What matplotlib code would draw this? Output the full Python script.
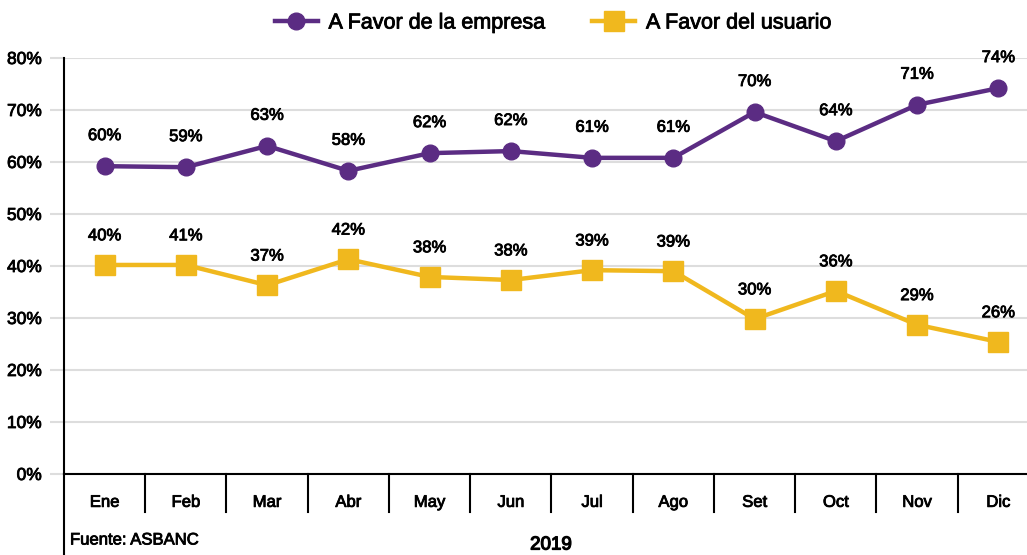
import matplotlib.pyplot as plt
import matplotlib.transforms as mtransforms
import matplotlib.patheffects as pe

plt.rcParams['font.family'] = ['Liberation Sans', 'DejaVu Sans']

months = ["Ene", "Feb", "Mar", "Abr", "May", "Jun", "Jul", "Ago", "Set", "Oct", "Nov", "Dic"]
empresa = [59.2, 59.0, 63.1, 58.3, 61.7, 62.1, 60.8, 60.8, 69.6, 64.0, 71.0, 74.2]
usuario = [40.2, 40.2, 36.3, 41.3, 37.9, 37.3, 39.2, 39.0, 29.8, 35.2, 28.7, 25.4]
empresa_lbl = ["60%", "59%", "63%", "58%", "62%", "62%", "61%", "61%", "70%", "64%", "71%", "74%"]
usuario_lbl = ["40%", "41%", "37%", "42%", "38%", "38%", "39%", "39%", "30%", "36%", "29%", "26%"]

purple = "#5B2C83"
yellow = "#F0B81E"
# thin outline so Liberation looks closer to the medium weight of the original
thick = [pe.withStroke(linewidth=0.6, foreground="black")]

W, H = 1027, 555
fig = plt.figure(figsize=(W / 100, H / 100), dpi=100)
# axes runs past the right edge, like the original (Dic column is cut)
ax = fig.add_axes([64 / W, (H - 474) / H, (1039 - 64) / W, 416 / H])

x = list(range(len(months)))
ax.plot(x, empresa, color=purple, lw=3.2, marker="o", ms=12, label="A Favor de la empresa", zorder=3)
ax.plot(x, usuario, color=yellow, lw=3.2, marker="s", ms=14, label="A Favor del usuario", zorder=3)

for i in x:
    ax.annotate(empresa_lbl[i], (i, empresa[i]), xytext=(0, 22), textcoords="offset points",
                ha="center", va="center", fontsize=12, path_effects=thick)
    ax.annotate(usuario_lbl[i], (i, usuario[i]), xytext=(0, 21), textcoords="offset points",
                ha="center", va="center", fontsize=12, path_effects=thick)

ax.set_xlim(-0.5, 11.5)
ax.set_ylim(0, 80)
ax.set_yticks(range(0, 81, 10))
ax.set_yticklabels([f"{v}%" for v in range(0, 81, 10)], fontsize=12.5, path_effects=thick)
ax.set_xticks(x)
ax.set_xticklabels(months, fontsize=12, path_effects=thick)
ax.tick_params(axis="x", length=0, pad=15)
ax.tick_params(axis="y", length=10, color="#DDDDDD", width=1.5, pad=6)
ax.grid(axis="y", color="#DDDDDD", lw=1.5)
ax.set_axisbelow(True)

for s in ["top", "right"]:
    ax.spines[s].set_visible(False)
ax.spines["left"].set_color("black")
ax.spines["left"].set_linewidth(1.5)
ax.spines["bottom"].set_linewidth(1.5)

# category separators and the long left line below the axis
trans = mtransforms.blended_transform_factory(ax.transData, ax.transAxes)
for i in range(1, len(months)):
    ax.plot([i - 0.5, i - 0.5], [0, -0.092], transform=trans, color="black", lw=1.5, clip_on=False)
ax.plot([0, 0], [0, -0.2], transform=ax.transAxes, color="black", lw=1.5, clip_on=False)

fig.text(70 / W, 1 - 540 / H, "Fuente: ASBANC", fontsize=12, ha="left", va="center", path_effects=thick)
fig.text(551 / W, 1 - 545 / H, "2019", fontsize=13.5, ha="center", va="center",
         path_effects=[pe.withStroke(linewidth=0.9, foreground="black")])

leg = fig.legend(loc="center", bbox_to_anchor=(553 / W, 1 - 23 / H), ncol=2, frameon=False,
                 fontsize=15.5, handlelength=2.0, columnspacing=2.2, handletextpad=0.5)
for t in leg.get_texts():
    t.set_path_effects(thick)

fig.savefig("out.png", dpi=100)
